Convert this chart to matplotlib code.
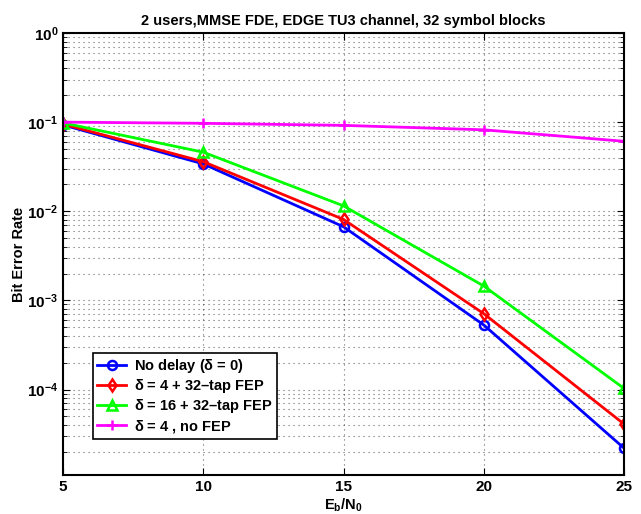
import matplotlib
matplotlib.use('Agg')
import matplotlib.pyplot as plt

ebn0 = [5, 10, 15, 20, 25]
ber_nodelay = [0.093, 0.034, 0.0067, 5.3e-4, 2.2e-5]
ber_d4_fep = [0.095, 0.036, 0.0081, 7.1e-4, 4.1e-5]
ber_d16_fep = [0.098, 0.046, 0.0115, 1.45e-3, 1.03e-4]
ber_d4_nofep = [0.1, 0.097, 0.092, 0.082, 0.061]

labels = ['No delay ($\\delta$ = 0)', '$\\delta$ = 4 + 32\u2013tap FEP',
          '$\\delta$ = 16 + 32\u2013tap FEP', '$\\delta$ = 4 , no FEP']

plt.rcParams['font.family'] = ['Liberation Sans', 'DejaVu Sans']
plt.rcParams['font.weight'] = 'bold'
plt.rcParams['mathtext.fontset'] = 'custom'
plt.rcParams['mathtext.rm'] = 'Liberation Sans:bold'
plt.rcParams['mathtext.it'] = 'Liberation Sans:bold'

fig = plt.figure(figsize=(6.41, 5.14), dpi=100)
ax = fig.add_axes([0.0983, 0.0759, 0.8752, 0.8599])

ax.semilogy(ebn0, ber_nodelay, '-o', color='blue', lw=2, ms=6.5, mfc='none', mew=1.8, label=labels[0])
ax.semilogy(ebn0, ber_d4_fep, '-d', color='red', lw=2, ms=6.5, mfc='none', mew=1.8, label=labels[1])
ax.semilogy(ebn0, ber_d16_fep, '-^', color='#00ff00', lw=2, ms=7, mfc='none', mew=1.8, label=labels[2])
ax.semilogy(ebn0, ber_d4_nofep, '-+', color='magenta', lw=2, ms=7, mew=1.8, label=labels[3])

ax.set_xlim(5, 25)
ax.set_ylim(1.1e-5, 1)
ax.set_xticks([5, 10, 15, 20, 25])
ax.set_yticks([1e-4, 1e-3, 1e-2, 1e-1, 1])
gridstyle = dict(color='black', ls=(0, (1, 3.5)), lw=0.8, alpha=0.6)
ax.grid(True, which='major', axis='both', **gridstyle)
ax.grid(True, which='minor', axis='y', **gridstyle)
ax.tick_params(which='both', direction='in', top=True, right=True, labelsize=11)
ax.tick_params(which='major', length=5)
ax.tick_params(which='minor', length=3)
for sp in ax.spines.values():
    sp.set_linewidth(1.5)

ax.set_title('2 users,MMSE FDE, EDGE TU3 channel, 32 symbol blocks', fontsize=10.5, fontweight='bold')
ax.set_xlabel('E$_\\mathregular{b}$/N$_\\mathregular{0}$', fontsize=10.5, fontweight='bold', labelpad=2)
ax.set_ylabel('Bit Error Rate', fontsize=10.5, fontweight='bold', labelpad=1)

leg = ax.legend(loc='lower left', bbox_to_anchor=(0.04, 0.065), fontsize=10.5, fancybox=False,
                edgecolor='black', framealpha=1, borderpad=0.3, labelspacing=0.15,
                handlelength=2.0, handletextpad=0.5)
leg.get_frame().set_linewidth(1.2)

fig.savefig('out.png', dpi=100)
